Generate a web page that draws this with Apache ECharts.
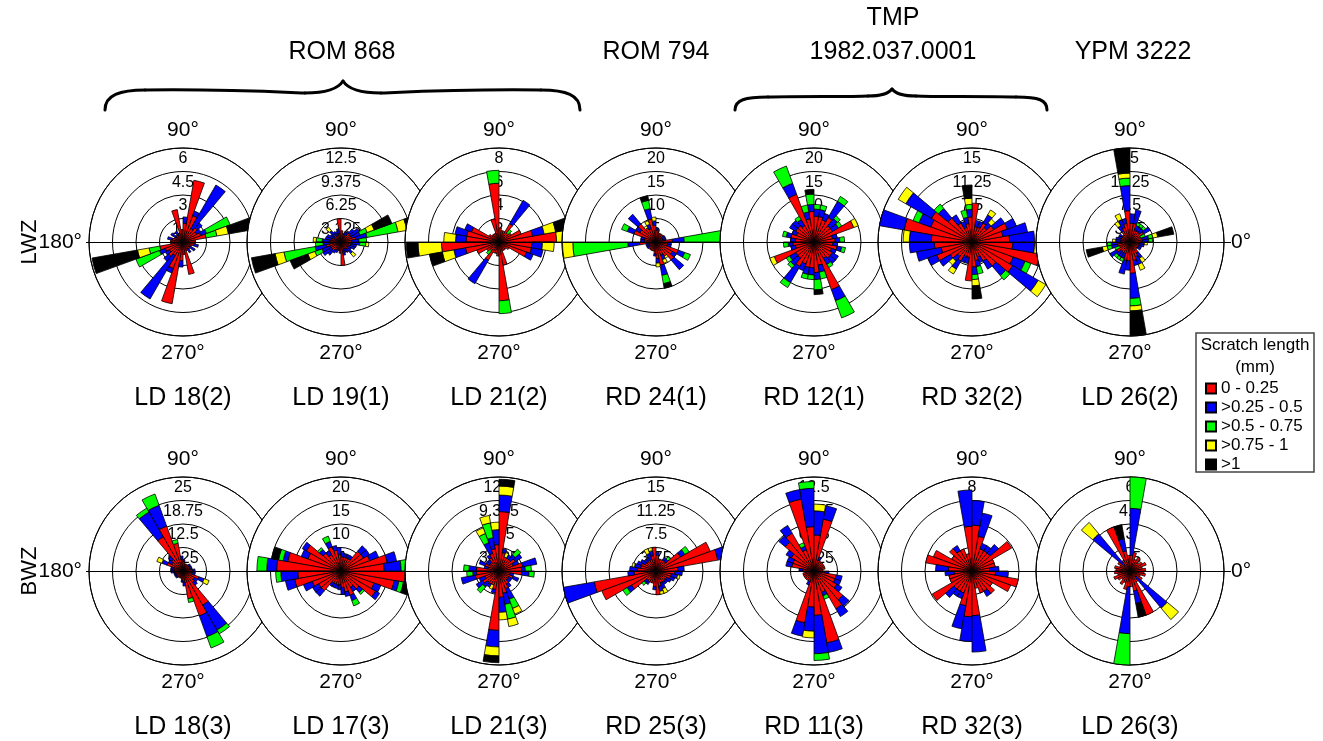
<!DOCTYPE html>
<html>
<head>
<meta charset="utf-8">
<style>html,body{margin:0;padding:0;background:#fff;}#chart{width:1323px;height:741px;}</style>
<script src="https://cdn.jsdelivr.net/npm/echarts/dist/echarts.min.js"></script>
</head>
<body>
<div id="chart"></div>
<script>
// ---------- labels ----------
const diagramNames = ['LD 18(2)', 'LD 19(1)', 'LD 21(2)', 'RD 24(1)', 'RD 12(1)', 'RD 32(2)', 'LD 26(2)',
                      'LD 18(3)', 'LD 17(3)', 'LD 21(3)', 'RD 25(3)', 'RD 11(3)', 'RD 32(3)', 'LD 26(3)'];
const ringMax = [6, 12.5, 8, 20, 20, 15, 15, 25, 20, 12.5, 15, 12.5, 8, 6];
const rowNames = ['LWZ', 'BWZ'];
const classNames = ['0 - 0.25', '>0.25 - 0.5', '>0.5 - 0.75', '>0.75 - 1', '>1'];
const classColors = ['#ff0000', '#0000ff', '#00ff00', '#ffff00', '#000000'];
const groupTitles = ['ROM 868', 'ROM 794', 'TMP', '1982.037.0001', 'YPM 3222'];
const legendTitle = ['Scratch length', '(mm)'];

// ---------- data: counts per 10° bin, 0–180° (axial data, mirrored to 180–360°) ----------
// LD 18(2)
const d1r = [0.8,1.5,1.2,1.0,1.2,1.0,1.8,4.0,1.2,0.8,2.1,0.6,0.5,0.6,0.5,0.6,0.7,0.8];
const d1b = [0,0,0.4,0.3,0.4,3.2,0.3,0,0.4,0,0,0,0.3,0,0.4,0,0.3,0];
const d1g = [0,0.7,1.6,0,0,0,0,0,0,0,0,0,0,0,0,0,0,0];
const d1y = [0,0.75,0,0,0,0,0,0,0,0,0,0,0,0,0,0,0,0];
const d1k = [0,2.95,0,0,0,0,0,0,0,0,0,0,0,0,0,0,0,0];
// LD 19(1)
const d2r = [1.4,2.0,1.5,1.5,1.5,1.2,1.0,1.2,1.5,3.1,1.2,1.0,1.0,1.2,1.0,1.2,1.3,1.5];
const d2b = [1.0,1.5,1.2,1.3,0.8,0.5,0.5,0,0,0,0.6,0.5,0.6,0.8,0.6,0.8,0.8,1.0];
const d2g = [1.0,4.2,1.0,0,0,0,0,0,0,0,0,0,0,0,0,0,0,0.8];
const d2y = [0,1.2,1.0,0,0,0,0,0,0,0,0,0,0,0.6,0,0,0,0.4];
const d2k = [0,3.2,2.5,0,0,0,0,0,0,0,0,0,0,0,0,0,0,0];
// LD 21(2)
const d3r = [4.9,2.9,2.0,1.2,1.0,1.8,1.0,1.0,1.2,5.0,2.0,0.8,0.8,0.8,1.0,2.5,2.8,2.8];
const d3b = [0,1.0,0,0,0,2.3,0,0,0,0,0,0,0,0,0,0.6,1.0,0.9];
const d3g = [0,0,0,0,0.4,0,0,0,0,1.1,0,0,0,0,0,0,0,0];
const d3y = [2.0,1.0,0,0,0,0,0,0,0,0,0,0,0,0,0,0,0,1.0];
const d3k = [1.0,1.1,0,0,0,0,0,0,0,0,0,0,0,0,0,0,0,0];
// RD 24(1)
const d4r = [3.5,1.5,1.5,1.5,2.0,2.0,2.0,2.0,2.5,3.5,5.0,3.0,3.5,5.0,4.0,5.0,2.5,2.5];
const d4b = [2.5,0.7,0.7,0.7,0,0,0,0,0.5,1.0,2.2,1.0,0,2.7,1.0,1.5,0.8,0.8];
const d4g = [11.7,0,0,0,0,0,0,0,0,0,1.8,0,0,0,0,1.3,0,0];
const d4y = [2.2,0,0,0,0,0,0,0,0,0.8,0,0.8,0.5,0,0,0,0,0];
const d4k = [0,0,0,0,0,0,0,0,0,0,1.0,0,0,0,0,0,0,0];
// RD 12(1)
const d5r = [4.5,4.0,9.0,4.5,4.5,6.0,5.0,5.5,5.5,6.5,5.0,10.8,4.0,4.5,4.5,4.0,5.0,4.0];
const d5b = [1.0,1.0,0,1.5,2.0,4.0,1.5,1.5,1.5,1.5,1.5,2.5,1.5,1.5,1.5,1.0,1.0,1.0];
const d5g = [1.0,0,0,0.8,0.8,1.2,0,1.0,1.0,2.2,1.5,3.9,0.8,0,0,0,0.8,0];
const d5y = [0,0,1.0,0,0,0,0,0,0,0,0,0,0,0,0,0,0,0];
const d5k = [0,0,0,0,0,0,0,0,0,1.0,0,0,0,0,0,0,0,0];
// RD 32(2)
const d6r = [6.0,5.0,6.0,4.0,3.0,3.5,2.5,2.5,6.2,4.0,3.0,2.5,3.5,5.0,7.5,7.0,11.0,6.5];
const d6b = [4.0,4.0,1.5,2.0,1.0,1.5,1.0,1.0,0,1.2,1.0,1.0,1.5,2.0,4.7,2.0,4.2,3.5];
const d6g = [0,0,0,0,0,0,0,0,0,0.8,1.2,0,0,0.9,0,1.0,0,0];
const d6y = [0,0,0,0,0.8,0.9,0,0,0,1.0,0,0,0,0,1.4,0,0,1.0];
const d6k = [0,0,0,0,0,0,0,0,0,2.1,0,0,0,0,0,0,0,0];
// LD 26(2)
const d7r = [2.0,2.0,1.8,2.5,2.0,2.0,2.0,3.0,3.0,5.0,3.0,2.5,2.0,1.5,1.5,1.5,1.5,1.5];
const d7b = [1.0,1.0,0,1.2,0.8,0.8,0.8,2.2,1.5,4.0,0.8,1.3,1.0,0,0.5,0.5,0.8,0.8];
const d7g = [0.6,0.7,0.8,0,0.5,0.5,0.5,0,0,1.2,0,0,0,0,0,0,0,0];
const d7y = [0,0.8,0,0,0,0,0,0,0,0.8,0,1.0,0.8,0,0,0,0,0.5];
const d7k = [0,2.6,0,0,0,0,0,0,0,4.0,0,0,0,0,0,0,0,0];
// LD 18(3)
const d8r = [2.5,2.0,2.0,2.0,2.0,2.0,2.0,2.0,2.5,3.0,7.5,12.7,10.5,4.0,3.5,4.5,2.5,2.5];
const d8b = [0.7,0.5,0.5,0.5,0.5,0,0,0,0.5,1.0,0,5.9,7.6,1.0,1.0,1.5,0.8,0.8];
const d8g = [0,0,0,0,0,0,0,0,0,0,1.0,3.2,1.2,0,0,0,0,0];
const d8y = [0,0,0,0,0,0,0,0,0,0,0,0,0,0,0,1.4,0,0];
const d8k = [0,0,0,0,0,0,0,0,0,0,0,0,0,0,0,0,0,0];
// LD 17(3)
const d9r = [9.2,10.0,6.5,5.5,5.5,3.0,3.0,3.0,3.0,3.5,4.5,5.5,4.0,5.0,8.5,7.5,11.5,13.7];
const d9b = [3.6,2.0,2.0,1.5,1.5,0.8,0.8,0.8,1.0,1.5,1.0,1.2,1.0,1.0,1.0,1.5,1.0,2.1];
const d9g = [1.1,0,0,0,0,0,0,0,0,0,0,1.2,0,0.5,0,0,1.0,2.1];
const d9y = [0,0,0,0,0,0,0,0,0,0,0,0,0,0,0,0,0,0];
const d9k = [0,0,0,0,0,0,0,0,0,0,0,0,0,0,0,0,1.5,0];
// LD 21(3)
const d10r = [3.0,3.2,2.0,2.5,2.0,2.0,2.0,2.5,7.9,3.5,3.0,2.5,2.0,1.5,1.5,2.0,1.5,3.0];
const d10b = [0.5,1.9,0.8,1.0,0.8,0.5,0,0.5,2.2,2.0,1.5,1.5,0.5,0.5,0.5,0.8,0.5,1.0];
const d10g = [0.8,0,0,0,1.0,0,0,0,0,0,2.0,1.3,0,0,0,0,0,0.7];
const d10y = [0,0,0,0,0,0,0.6,0,1.2,1.0,1.0,0.8,0,0,0,0,0,0];
const d10k = [0,0,0,0,0,0,0,0,0.9,0,0,0,0,0,0,0,0,0];
// RD 25(3)
const d11r = [3.5,10.0,9.2,4.5,2.0,2.0,2.0,2.0,2.5,3.8,2.5,2.0,2.0,2.0,2.0,2.5,2.5,3.0];
const d11b = [1.0,5.2,0,0.8,0.5,0.5,0,0,0.5,0,0.8,1.0,0.5,0.5,0.8,0.7,1.0,1.2];
const d11g = [0,0,0,0.8,0.5,0,0,0,0,0,0,0,0,0,0,0,0,0];
const d11y = [0,0,0,0,0,0,0,0,0,0,0.5,0.8,0,0,0,0,0.4,0];
const d11k = [0,0,0,0,0,0,0,0,0,0,0,0,0,0,0,0,0,0];
// RD 11(3)
const d12r = [1.2,1.5,1.5,1.5,1.5,1.5,1.5,7.0,4.8,5.9,9.7,3.0,5.8,5.0,3.5,3.0,3.0,1.5];
const d12b = [0,0,0,0,0,0,0.5,1.8,3.2,5.1,1.3,0.5,1.2,1.1,0.8,0.8,0.8,0.5];
const d12g = [0,0,0,0,0,0,0,0,0,0.9,0,0.5,0,0,0,0,0,0];
const d12y = [0,0,0,0,0,0,0,0,0.9,0,0,0,0,0,0,0,0,0];
const d12k = [0,0,0,0,0,0,0,0,0,0,0,0,0,0,0,0,0,0];
// RD 32(3)
const d13r = [1.5,2.0,2.0,3.9,2.0,2.0,2.0,3.0,3.9,3.8,1.5,2.0,2.0,2.5,2.0,3.5,4.0,2.0];
const d13b = [0.8,0,0,0,0.95,0.5,0.5,2.0,2.1,3.1,0,0,0.5,0,0,0,0,1.1];
const d13g = [0,0,0,0,0,0,0,0,0,0,0,0,0,0,0,0,0,0];
const d13y = [0,0,0,0,0,0,0,0,0,0,0,0,0,0,0,0,0,0];
const d13k = [0,0,0,0,0,0,0,0,0,0,0,0,0,0,0,0,0,0];
// LD 26(3)
const d14r = [1.0,0.8,1.1,0.9,0.7,1.0,0.8,1.2,1.0,1.0,1.3,3.0,0.8,0.5,0.9,0.7,1.0,0.9];
const d14b = [0,0,0,0,0,0,0,0,3.0,0,0.8,0,0,2.6,0,0,0,0];
const d14g = [0,0,0,0,0,0,0,0,2.0,0,0,0,0,0,0,0,0,0];
const d14y = [0,0,0,0,0,0,0,0,0,0,0,0,0,0.95,0,0,0,0];
const d14k = [0,0,0,0,0,0,0,0,0,0,0.9,0,0,0,0,0,0,0];

const diagramData = [
  [d1r,d1b,d1g,d1y,d1k], [d2r,d2b,d2g,d2y,d2k], [d3r,d3b,d3g,d3y,d3k], [d4r,d4b,d4g,d4y,d4k],
  [d5r,d5b,d5g,d5y,d5k], [d6r,d6b,d6g,d6y,d6k], [d7r,d7b,d7g,d7y,d7k],
  [d8r,d8b,d8g,d8y,d8k], [d9r,d9b,d9g,d9y,d9k], [d10r,d10b,d10g,d10y,d10k], [d11r,d11b,d11g,d11y,d11k],
  [d12r,d12b,d12g,d12y,d12k], [d13r,d13b,d13g,d13y,d13k], [d14r,d14b,d14g,d14y,d14k]
];

// ---------- layout ----------
const FONT = 'Liberation Sans, Arial, Helvetica, sans-serif';
const centersX = [183, 341, 499, 656, 814, 972, 1130];
const centersY = [242, 571];
const labelY = [398, 727];
const R = 94;
const NCOL = 7;

// 36 category bins starting at 90° counter-clockwise: category k spans [90+10k, 100+10k]
const binCats = [];
for (let k = 0; k < 36; k++) binCats.push(String((90 + 10 * k) % 360));
function toCategoryOrder(half) {
  const full = half.concat(half); // axial data: bin b and b+180° carry the same count
  const out = [];
  for (let k = 0; k < 36; k++) {
    const v = full[(k + 9) % 36];
    out.push(v > 0 ? v : null);
  }
  return out;
}

const polar = [], angleAxis = [], radiusAxis = [], series = [], graphic = [];

diagramData.forEach((cats, i) => {
  const row = Math.floor(i / NCOL), col = i % NCOL;
  const cx = centersX[col], cy = centersY[row];
  const M = ringMax[i];
  const zb = 10 * i;
  polar.push({ center: [cx, cy], radius: R });       // bars + rings
  polar.push({ center: [cx, cy], radius: R });       // white disc + angle labels

  angleAxis.push({
    polarIndex: 2 * i, type: 'category', data: binCats, startAngle: 90, clockwise: false,
    axisLine: { show: true, lineStyle: { color: '#000', width: 1 } },
    axisTick: { show: false }, axisLabel: { show: false }, splitLine: { show: false },
    z: zb + 3
  });
  angleAxis.push({
    polarIndex: 2 * i + 1, type: 'value', min: 0, max: 360, interval: 90, startAngle: 0, clockwise: false,
    axisLine: { show: false }, axisTick: { show: false }, splitLine: { show: false },
    splitArea: { show: true, areaStyle: { color: ['#ffffff', '#ffffff'], opacity: 1 } },
    axisLabel: {
      show: true, margin: 7, fontSize: 21, color: '#000', fontFamily: FONT,
      formatter: function (v) {
        if (v === 90) return '90°';
        if (v === 270) return '270°';
        if (v === 180 && col === 0) return '180°';
        if (v === 0 && col === NCOL - 1) return '0°';
        return '';
      }
    },
    z: zb + 1
  });
  radiusAxis.push({
    polarIndex: 2 * i, type: 'value', min: 0, max: M, interval: M / 4,
    axisLine: { show: false }, axisTick: { show: false },
    splitLine: { show: true, lineStyle: { color: '#000', width: 1 } },
    axisLabel: {
      show: true, showMinLabel: false, margin: 0, align: 'center', verticalAlign: 'top',
      padding: [3, 0, 0, 0], fontSize: 16, color: '#000', fontFamily: FONT
    },
    z: zb + 3
  });
  radiusAxis.push({ polarIndex: 2 * i + 1, type: 'value', min: 0, max: 1, show: false });

  cats.forEach((arr, c) => {
    series.push({
      type: 'bar', coordinateSystem: 'polar', polarIndex: 2 * i, name: classNames[c],
      stack: 'st' + i, data: toCategoryOrder(arr), barCategoryGap: '0%', barGap: '0%',
      itemStyle: { color: classColors[c], borderColor: '#000', borderWidth: 0.8 },
      z: zb + 5, silent: true
    });
  });

  graphic.push({
    type: 'text', x: cx, y: labelY[row], z: 200,
    style: { text: diagramNames[i], font: '25px ' + FONT, fill: '#000',
             textAlign: 'center', textVerticalAlign: 'middle', align: 'center', verticalAlign: 'middle' }
  });
});

// horizontal reference lines and row names
centersY.forEach((cy, r) => {
  graphic.push({ type: 'line', z: 300, shape: { x1: 86, y1: cy + 0.5, x2: 1231, y2: cy + 0.5 },
                 style: { stroke: '#000', lineWidth: 1 } });
  graphic.push({
    type: 'text', x: 30, y: cy, rotation: Math.PI / 2, z: 200,
    style: { text: rowNames[r], font: '22px ' + FONT, fill: '#000',
             textAlign: 'center', textVerticalAlign: 'middle', align: 'center', verticalAlign: 'middle' }
  });
});

// group titles
const titlePos = [[342, 52], [656, 52], [893, 18], [893, 52], [1133, 52]];
groupTitles.forEach((t, k) => {
  graphic.push({
    type: 'text', x: titlePos[k][0], y: titlePos[k][1], z: 200,
    style: { text: t, font: '25px ' + FONT, fill: '#000',
             textAlign: 'center', textVerticalAlign: 'middle', align: 'center', verticalAlign: 'middle' }
  });
});

// braces (cubic segments: x1,y1, cp1x,cp1y, cp2x,cp2y, x2,y2)
const braceSegs = [
  [105,110, 105,95, 120,90, 145,90], [145,90, 220,89, 280,92, 305,93], [305,93, 325,93, 338,89, 343,81],
  [343,81, 348,89, 361,93, 381,93], [381,93, 406,92, 466,89, 541,90], [541,90, 566,90, 580,95, 580,110],
  [735,110, 735,100, 745,97, 768,97], [768,97, 800,96, 850,97, 868,96], [868,96, 882,96, 889,93, 892,89],
  [892,89, 895,93, 902,96, 916,96], [916,96, 934,97, 984,96, 1016,97], [1016,97, 1039,97, 1047,100, 1047,110]
];
braceSegs.forEach(s => {
  graphic.push({
    type: 'bezierCurve', z: 200,
    shape: { x1: s[0], y1: s[1], cpx1: s[2], cpy1: s[3], cpx2: s[4], cpy2: s[5], x2: s[6], y2: s[7] },
    style: { stroke: '#000', lineWidth: 3, fill: null, lineCap: 'round' }
  });
});

// legend box and title
graphic.push({ type: 'rect', z: 150, shape: { x: 1196, y: 333, width: 118, height: 139 },
               style: { fill: '#fff', stroke: '#444', lineWidth: 1.5 } });
graphic.push({ type: 'text', x: 1255, y: 345, z: 200,
               style: { text: legendTitle[0], font: '17px ' + FONT, fill: '#000',
                        textAlign: 'center', textVerticalAlign: 'middle', align: 'center', verticalAlign: 'middle' } });
graphic.push({ type: 'text', x: 1255, y: 367, z: 200,
               style: { text: legendTitle[1], font: '17px ' + FONT, fill: '#000',
                        textAlign: 'center', textVerticalAlign: 'middle', align: 'center', verticalAlign: 'middle' } });

const option = {
  animation: false,
  backgroundColor: '#fff',
  textStyle: { fontFamily: FONT },
  polar: polar,
  angleAxis: angleAxis,
  radiusAxis: radiusAxis,
  legend: {
    data: classNames, orient: 'vertical', left: 1205, top: 380, z: 160, padding: 0,
    itemWidth: 10, itemHeight: 10, itemGap: 2, icon: 'rect', selectedMode: false,
    textStyle: { fontSize: 17, lineHeight: 16, color: '#000', fontFamily: FONT }
  },
  series: series,
  graphic: graphic
};

const chart = echarts.init(document.getElementById('chart'), null, { renderer: 'canvas' });
chart.setOption(option);
</script>
</body>
</html>
